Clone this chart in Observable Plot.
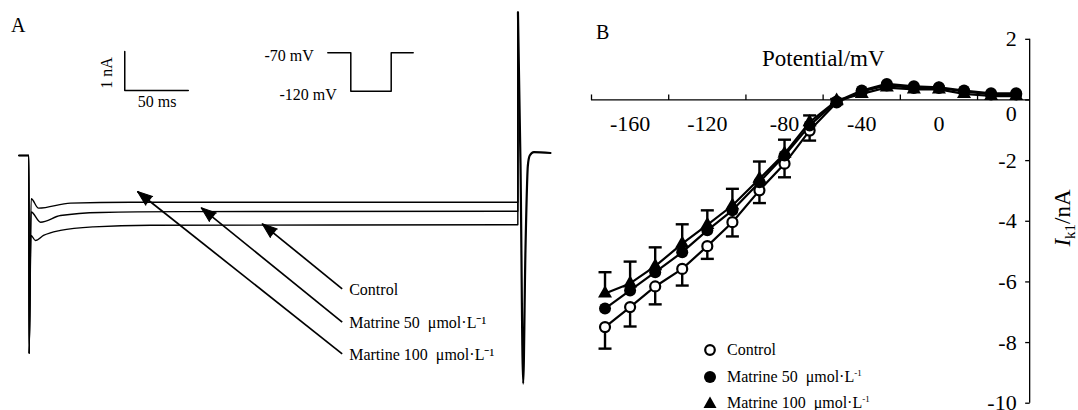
<!DOCTYPE html>
<html><head><meta charset="utf-8">
<script src="https://cdn.jsdelivr.net/npm/d3@7"></script>
<script src="https://cdn.jsdelivr.net/npm/@observablehq/plot@0.6"></script>
<style>
html,body{margin:0;padding:0;background:#fff;}
#fig{position:relative;width:1078px;height:410px;overflow:hidden;background:#fff;font-family:"Liberation Serif","Times New Roman",Times,serif;color:#000;}
#fig svg text{font-family:"Liberation Serif","Times New Roman",Times,serif;}
.abs{position:absolute;line-height:1;white-space:nowrap;}
.lg{position:absolute;display:flex;align-items:center;font-size:16px;line-height:16px;white-space:pre;}
.lg sup{font-size:9px;vertical-align:6px;line-height:0;}
</style></head>
<body><div id="fig"></div>
<script>
const FONT = '"Liberation Serif", "Times New Roman", Times, serif';

// ================= Panel A: current traces (t in ms, I in nA) =================
const holdT = [-8.0, -0.1, 0.1];
const holdI = [0, 0, -5.08];
const controlT = [1.6, 5.1, 11.4, 24.8, 50.8, 95.7, 384.9, 385.0];
const controlI = [-2.05, -2.18, -2.05, -1.92, -1.83, -1.79, -1.777, 3.67];
const matrine50T = [1.7, 9.1, 24.8, 56.3, 120.0, 384.9, 385.0];
const matrine50I = [-1.45, -1.71, -1.54, -1.46, -1.44, -1.428, 3.67];
const matrine100T = [1.7, 7.5, 32.7, 79.9, 384.9, 385.0];
const matrine100I = [-1.11, -1.35, -1.22, -1.20, -1.197, 3.67];
const tailT = [385.0, 387.0, 389.1, 390.9, 392.8, 394.3, 397.5, 410.6];
const tailI = [3.67, -0.2, -5.85, -2.44, -0.26, 0.0, 0.085, 0.064];

const scaleBarT = [75.4, 75.4, 125.4];
const scaleBarI = [2.667, 1.667, 1.667];
const scaleLabels = ["1 nA", "50 ms"];
const scaleLabelT = [61.0, 100.9];
const scaleLabelI = [2.115, 1.367];

const arrowLabels = ["Control", "Matrine 50\u2002\u03bcmol\u00b7L\u207b\u00b9", "Martine 100\u2002\u03bcmol\u00b7L\u207b\u00b9"];
const arrowTailT = [246.6, 246.6, 246.6];
const arrowTailI = [-3.418, -4.274, -5.085];
const arrowTipT = [183.6, 135.6, 85.4];
const arrowTipI = [-1.751, -1.341, -0.923];

// voltage protocol inset (schematic)
const protocolT = [-23, 0, 0, 40.4, 40.4, 62.4];
const protocolMV = [-70, -70, -120, -120, -70, -70];
const protocolLabels = ["-70 mV", "-120 mV"];
const protocolLabelT = [-23, 0];
const protocolLabelMV = [-70, -120];

// ================= Panel B: I-V relation =================
const voltage = [-173, -160, -147, -133, -120, -107, -93, -80, -67, -53, -40, -27, -13, 0, 13, 27, 40];
const control = [-7.49, -6.83, -6.15, -5.57, -4.82, -4.03, -2.98, -2.10, -1.01, -0.08, 0.28, 0.48, 0.40, 0.40, 0.28, 0.18, 0.18];
const controlSem = [0.71, 0.64, 0.59, 0.55, 0.42, 0.47, 0.42, 0.45, 0.33, 0.06, 0, 0, 0, 0, 0, 0, 0];
const matrine50 = [-6.88, -6.28, -5.68, -5.02, -4.30, -3.64, -2.71, -1.83, -0.84, -0.05, 0.31, 0.53, 0.45, 0.42, 0.31, 0.22, 0.22];
const matrine100 = [-6.38, -6.05, -5.48, -4.74, -4.12, -3.48, -2.60, -1.77, -0.73, -0.02, 0.20, 0.41, 0.35, 0.35, 0.20, 0.13, 0.13];
const matrine100Sem = [0.70, 0.72, 0.62, 0.64, 0.48, 0.55, 0.57, 0.46, 0.22, 0.05, 0, 0, 0, 0, 0, 0, 0];

const xTickMarks = [-180, -140, -100, -60, -20, 20];
const xTickLabels = [-160, -120, -80, -40, 0];
const yTicks = [2, 0, -2, -4, -6, -8, -10];
const xAxisFrom = -180;
const yAxisAt = 47;

const legendNames = ["Control", "Matrine 50\u2002\u03bcmol\u00b7L<sup>-1</sup>", "Matrine 100\u2002\u03bcmol\u00b7L<sup>-1</sup>"];

// ---------------- helpers ----------------
const fig = document.getElementById("fig");
function place(node, left, top, w, h) {
  const d = document.createElement("div");
  d.style.cssText = `position:absolute;left:${left}px;top:${top}px;width:${w}px;height:${h}px;`;
  d.appendChild(node); fig.appendChild(d); return d;
}
function label(html, left, top, size, extra = "") {
  const d = document.createElement("div");
  d.className = "abs";
  d.style.cssText += `left:${left}px;top:${top}px;font-size:${size}px;${extra}`;
  d.innerHTML = html; fig.appendChild(d); return d;
}

// ---------------- Panel A ----------------
const AW = 560, AH = 410;
const ax = [-22.44, 418.50], ay = [-6.538, 3.974];
const kx = AW / (ax[1] - ax[0]), ky = AH / (ay[1] - ay[0]);

const traceRows = [];
[["Control", controlT, controlI], ["Matrine 50", matrine50T, matrine50I], ["Matrine 100", matrine100T, matrine100I]]
  .forEach(([name, ts, is]) => {
    const T = holdT.concat(ts), I = holdI.concat(is);
    T.forEach((t, k) => traceRows.push({series: name, t, I: I[k]}));
  });
const tailRows = tailT.map((t, k) => ({t, I: tailI[k]}));
const scaleRows = scaleBarT.map((t, k) => ({t, I: scaleBarI[k]}));
const arrows = arrowLabels.map((lab, k) => ({
  lab, t1: arrowTailT[k], i1: arrowTailI[k], t2: arrowTipT[k], i2: arrowTipI[k],
  rot: Math.atan2((arrowTipT[k] - arrowTailT[k]) * kx, (arrowTipI[k] - arrowTailI[k]) * ky) * 180 / Math.PI
}));

const panelA = Plot.plot({
  width: AW, height: AH, margin: 0,
  x: {domain: ax, axis: null}, y: {domain: ay, axis: null},
  style: {fontFamily: FONT, background: "transparent", overflow: "visible"},
  marks: [
    Plot.line(traceRows, {x: "t", y: "I", z: "series", stroke: "black", strokeWidth: 1.4, curve: "monotone-x"}),
    Plot.line(tailRows, {x: "t", y: "I", stroke: "black", strokeWidth: 2.2, curve: "monotone-x"}),
    Plot.line(scaleRows, {x: "t", y: "I", stroke: "black", strokeWidth: 1.5}),
    Plot.text([0], {x: scaleLabelT[0], y: scaleLabelI[0], text: () => scaleLabels[0], rotate: -90, fontSize: 16, fontFamily: FONT}),
    Plot.text([1], {x: scaleLabelT[1], y: scaleLabelI[1], text: () => scaleLabels[1], fontSize: 16, fontFamily: FONT}),
    Plot.link(arrows, {x1: "t1", y1: "i1", x2: "t2", y2: "i2", stroke: "black", strokeWidth: 1.7}),
    Plot.vector(arrows, {x: "t2", y: "i2", rotate: "rot", length: 15, r: 5.5, shape: "spike", anchor: "end", fill: "black", stroke: "black", strokeWidth: 1}),
    Plot.text(arrows, {x: "t1", y: "i1", text: "lab", textAnchor: "start", dx: 7, dy: 1, fontSize: 16, fontFamily: FONT})
  ]
});
place(panelA, 0, 0, AW, AH);

const protoRows = protocolT.map((t, k) => ({t, v: protocolMV[k]}));
const protoLab = protocolLabels.map((s, k) => ({s, t: protocolLabelT[k], v: protocolLabelMV[k]}));
const inset = Plot.plot({
  width: 180, height: 80, margin: 0,
  x: {domain: [-100.3, 79.7], axis: null}, y: {domain: [-145.13, -40.96], axis: null},
  style: {fontFamily: FONT, background: "transparent", overflow: "visible"},
  marks: [
    Plot.line(protoRows, {x: "t", y: "v", stroke: "black", strokeWidth: 1.5}),
    Plot.text(protoLab, {x: "t", y: "v", text: "s", textAnchor: "end", dx: -14, dy: 3.5, fontSize: 16, fontFamily: FONT})
  ]
});
place(inset, 250, 30, 180, 80);

// ---------------- Panel B ----------------
const BW = 498, BH = 410;
const rows = (vals, name) => voltage.map((v, k) => ({v, y: vals[k], series: name, k}));
const cRows = rows(control, "Control");
const m50Rows = rows(matrine50, "Matrine 50");
const m100Rows = rows(matrine100, "Matrine 100");
const cErr = voltage.map((v, k) => ({v, y1: control[k], y2: control[k] - controlSem[k]})).filter(d => d.y1 !== d.y2);
const mErr = voltage.map((v, k) => ({v, y1: matrine100[k], y2: matrine100[k] + matrine100Sem[k]})).filter(d => d.y1 !== d.y2);

const tickUp = {draw(ctx) { ctx.moveTo(0, 0); ctx.lineTo(0, -5.5); }};
const tickLeft = {draw(ctx) { ctx.moveTo(0, 0); ctx.lineTo(-4.5, 0); }};
const capSym = {draw(ctx) { ctx.moveTo(-6.5, 0); ctx.lineTo(6.5, 0); }};

const panelB = Plot.plot({
  width: BW, height: BH, margin: 0,
  x: {domain: [-185.7, 72.3], axis: null}, y: {domain: [-10.24, 3.28], axis: null},
  style: {fontFamily: FONT, background: "transparent", overflow: "visible"},
  marks: [
    Plot.ruleY([0], {x1: xAxisFrom, x2: yAxisAt, stroke: "black", strokeWidth: 1.3}),
    Plot.dot(xTickMarks, {x: d => d, y: 0, symbol: tickUp, fill: "none", stroke: "black", strokeWidth: 1.3}),
    Plot.ruleX([yAxisAt], {y1: -10, y2: 2, stroke: "black", strokeWidth: 1.3}),
    Plot.dot(yTicks, {x: yAxisAt, y: d => d, symbol: tickLeft, fill: "none", stroke: "black", strokeWidth: 1.3}),
    Plot.text(xTickLabels, {x: d => d, y: 0, dy: 24, text: d => String(d), fontSize: 22, fontFamily: FONT}),
    Plot.text(yTicks.filter(d => d !== 0), {x: yAxisAt, y: d => d, dx: -13, text: d => String(d), textAnchor: "end", fontSize: 22, fontFamily: FONT}),
    Plot.text(yTicks.filter(d => d === 0), {x: yAxisAt, y: d => d, dx: -13, dy: 14, text: d => String(d), textAnchor: "end", fontSize: 22, fontFamily: FONT}),
    Plot.line(cRows, {x: "v", y: "y", stroke: "black", strokeWidth: 2.2}),
    Plot.line(m100Rows, {x: "v", y: "y", stroke: "black", strokeWidth: 2.2}),
    Plot.line(m50Rows, {x: "v", y: "y", stroke: "black", strokeWidth: 2.2}),
    Plot.ruleX(cErr, {x: "v", y1: "y1", y2: "y2", stroke: "black", strokeWidth: 2.4}),
    Plot.dot(cErr, {x: "v", y: "y2", symbol: capSym, fill: "none", stroke: "black", strokeWidth: 2.4}),
    Plot.ruleX(mErr, {x: "v", y1: "y1", y2: "y2", stroke: "black", strokeWidth: 2.4}),
    Plot.dot(mErr, {x: "v", y: "y2", symbol: capSym, fill: "none", stroke: "black", strokeWidth: 2.4}),
    Plot.dot(cRows, {x: "v", y: "y", r: 5, fill: "white", stroke: "black", strokeWidth: 2.2}),
    Plot.dot(m100Rows, {x: "v", y: "y", r: 5.2, symbol: "triangle", fill: "black", stroke: "none"}),
    Plot.dot(m50Rows, {x: "v", y: "y", r: 6, fill: "black", stroke: "none"})
  ]
});
place(panelB, 580, 0, BW, BH);

// ---------------- text overlays ----------------
label("A", 11, 15, 20);
label("B", 596, 22, 20);
label("Potential/mV", 823.3, 58.3, 23, "transform:translate(-50%,-50%);");
label('<i>I</i><sub style="font-size:15px;vertical-align:-5px;line-height:0">k1</sub>/nA', 1062, 218, 23,
      "transform:translate(-50%,-50%) rotate(-90deg);");

// legend for panel B
const legendSymbols = [
  '<circle cx="8" cy="8" r="4.8" fill="white" stroke="black" stroke-width="2.2"/>',
  '<circle cx="8" cy="8" r="6" fill="black"/>',
  '<path d="M8,1.5 L14.5,13 L1.5,13 Z" fill="black"/>'
];
const legendY = [350, 376.7, 403.3];
legendNames.forEach((name, k) => {
  const d = document.createElement("div");
  d.className = "lg";
  d.style.left = "702px";
  d.style.top = (legendY[k] - 8) + "px";
  d.innerHTML = `<svg width="16" height="16" style="display:block">${legendSymbols[k]}</svg><span style="margin-left:9px">${name}</span>`;
  fig.appendChild(d);
});
</script>
</body></html>
